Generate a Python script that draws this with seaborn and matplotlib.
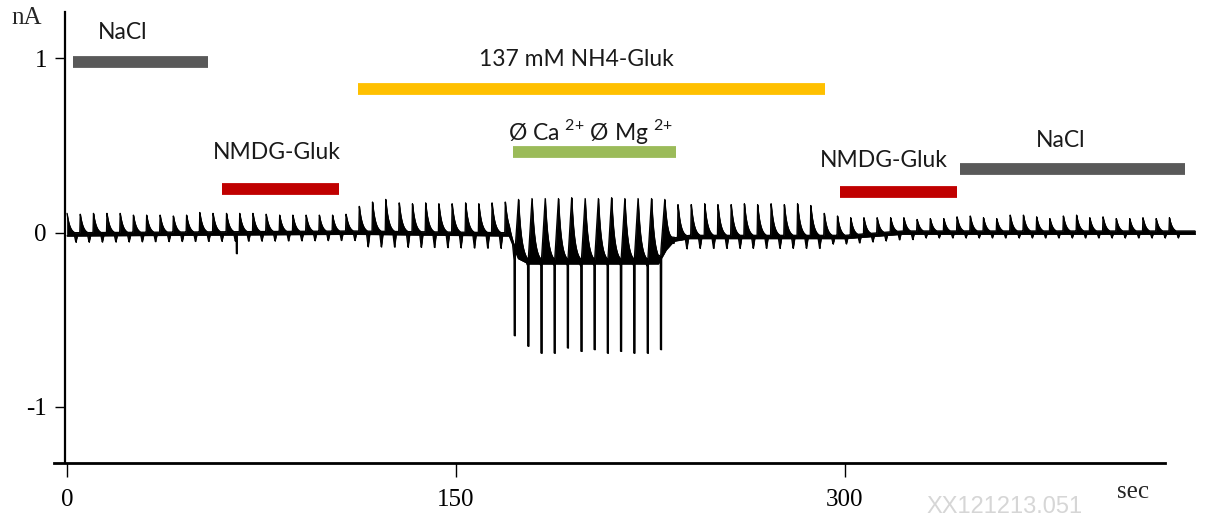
import numpy as np
import pandas as pd
import matplotlib
matplotlib.use("Agg")
import matplotlib.pyplot as plt
import seaborn as sns

# ---------------- data ----------------
# stimulus times (s) of the periodic current responses
spike_times = [0.0, 5.1, 10.2, 15.4, 20.5, 25.6, 30.7, 35.9, 41.0, 46.1,
               51.2, 56.3, 61.5, 66.6, 71.7, 76.8, 82.0, 87.1, 92.2, 97.3,
               102.4, 107.6, 112.7, 117.8, 122.9, 128.1, 133.2, 138.3, 143.4, 148.5,
               153.7, 158.8, 163.9, 169.0, 174.1, 179.3, 184.4, 189.5, 194.6, 199.8,
               204.9, 210.0, 215.1, 220.2, 225.4, 230.5, 235.6, 240.7, 245.9, 251.0,
               256.1, 261.2, 266.3, 271.5, 276.6, 281.7, 286.8, 292.0, 297.1, 302.2,
               307.3, 312.4, 317.6, 322.7, 327.8, 332.9, 338.1, 343.2, 348.3, 353.4,
               358.5, 363.7, 368.8, 373.9, 379.0, 384.2, 389.3, 394.4, 399.5, 404.6,
               409.8, 414.9, 420.0, 425.1]
# positive peak of each response (nA)
spike_peaks = [0.11, 0.105, 0.11, 0.11, 0.11, 0.10, 0.10, 0.10, 0.095, 0.10,
               0.115, 0.11, 0.11, 0.11, 0.11, 0.105, 0.10, 0.10, 0.10, 0.10,
               0.10, 0.105, 0.15, 0.175, 0.19, 0.17, 0.165, 0.17, 0.165, 0.165,
               0.17, 0.165, 0.17, 0.175, 0.19, 0.195, 0.195, 0.195, 0.20, 0.195,
               0.195, 0.20, 0.195, 0.195, 0.195, 0.19, 0.16, 0.16, 0.165, 0.16,
               0.16, 0.165, 0.16, 0.165, 0.16, 0.165, 0.155, 0.11, 0.095, 0.085,
               0.085, 0.085, 0.085, 0.085, 0.075, 0.08, 0.08, 0.09, 0.095, 0.085,
               0.08, 0.10, 0.10, 0.09, 0.08, 0.095, 0.10, 0.085, 0.09, 0.08,
               0.08, 0.085, 0.08, 0.085]
# depth of the small negative notch after each response (nA below baseline)
spike_dips = [0.045] * 22 + [0.08] * 12 + [0.02] * 12 + [0.065] * 11 + [0.04] * 7 + [0.03] * 20

# large inward currents in Ca/Mg-free solution
neg_times = [172.6, 177.8, 182.9, 188.0, 193.1, 198.3, 203.4, 208.5, 213.6, 218.7, 223.9, 229.0]
neg_values = [-0.59, -0.65, -0.69, -0.69, -0.66, -0.68, -0.67, -0.69, -0.68, -0.69, -0.69, -0.67]

# holding-current baseline (s, nA)
base_times = [0.0, 110.0, 170.5, 174.0, 178.0, 228.0, 231.0, 234.0, 240.0, 300.0, 322.0, 435.0]
base_values = [-0.01, 0.0, -0.01, -0.14, -0.17, -0.17, -0.09, -0.04, -0.025, -0.025, 0.0, 0.0]

# single artefact
artefact_times = [65.4]
artefact_values = [-0.12]
trace_end = 435.0

# solution bars
bar_labels = ["NaCl", "NMDG-Gluk", "137 mM NH4-Gluk",
              "Ø Ca $^{\\mathregular{2{+}}}$ Ø Mg $^{\\mathregular{2{+}}}$", "NMDG-Gluk", "NaCl"]
bar_start = [2.3, 59.8, 112.2, 172.0, 298.1, 344.4]
bar_end = [54.4, 104.9, 292.3, 234.9, 343.2, 431.2]
bar_level = [0.977, 0.249, 0.822, 0.461, 0.232, 0.364]
label_x = [21.6, 81.0, 196.3, 201.7, 315.1, 383.3]
label_y = [1.149, 0.456, 0.989, 0.58, 0.415, 0.53]
bar_colors = ["#595959", "#C00000", "#FFC000", "#9BBB59", "#C00000", "#595959"]

x_ticks = [0, 150, 300]
x_ticklabels = ["0", "150", "300"]
y_ticks = [-1, 0, 1]
y_ticklabels = ["-1", "0", "1"]

# ---------------- build trace envelope from the values ----------------
t = np.arange(0.0, trace_end, 0.02)
base = np.interp(t, base_times, base_values)
upper = base + 0.009
lower = base - 0.009
tau = 1.15
neg_map = {}
for nt, nv in zip(neg_times, neg_values):
    idx = int(np.argmin([abs(st - nt - 1.5) for st in spike_times]))
    neg_map[idx] = (nt, nv)

for i, (ti, pk, dp) in enumerate(zip(spike_times, spike_peaks, spike_dips)):
    b = np.interp(ti, base_times, base_values)
    rise = 0.2
    if i in neg_map:
        nt, nv = neg_map[i]
        rise = ti - nt
        m = np.abs(t - nt) < 0.2
        lower[m] = np.minimum(lower[m], nv)
    m = (t >= ti - rise) & (t < ti)
    upper[m] = np.maximum(upper[m], b + (pk - b) * (t[m] - (ti - rise)) / rise)
    m = (t >= ti) & (t < ti + 4.6)
    upper[m] = np.maximum(upper[m], base[m] + (pk - b) * np.exp(-(t[m] - ti) / tau))
    tc = ti + 3.4
    m = np.abs(t - tc) < 0.65
    lower[m] = np.minimum(lower[m], base[m] - dp * (1 - np.abs(t[m] - tc) / 0.65))

for at, av in zip(artefact_times, artefact_values):
    m = np.abs(t - at) < 0.15
    lower[m] = np.minimum(lower[m], av)

df = pd.DataFrame({"t": t, "upper": upper, "lower": lower})

# ---------------- draw ----------------
sns.set_theme(style="ticks")
plt.rcParams["font.family"] = ["Lato", "DejaVu Sans"]
plt.rcParams["mathtext.fontset"] = "custom"
plt.rcParams["mathtext.rm"] = "Lato"

fig = plt.figure(figsize=(12.07, 5.2), dpi=100)
ax = fig.add_axes([65 / 1207, 57 / 520, 1135 / 1207, 451 / 520])

ax.fill_between(df["t"], df["lower"], df["upper"], color="black", lw=0.5)
sns.lineplot(data=df, x="t", y="upper", ax=ax, color="black", lw=0.9,
             estimator=None, sort=False)
sns.lineplot(data=df, x="t", y="lower", ax=ax, color="black", lw=0.9,
             estimator=None, sort=False)

for xs, xe, yl, c in zip(bar_start, bar_end, bar_level, bar_colors):
    ax.hlines(yl, xs, xe, colors=c, lw=8.5, capstyle="butt")
for lx, ly, lab in zip(label_x, label_y, bar_labels):
    ax.text(lx, ly, lab, ha="center", va="center", fontsize=16.5, color="#1a1a1a")

ax.set_xlim(-0.77, 436.9)
ax.set_ylim(-1.321, 1.264)
ax.set_xlabel("")
ax.set_ylabel("")
for s in ["top", "right"]:
    ax.spines[s].set_visible(False)
ax.spines["left"].set_linewidth(1.6)
ax.spines["left"].set_color("black")
ax.spines["bottom"].set_linewidth(2.0)
ax.spines["bottom"].set_color("black")
ax.spines["bottom"].set_bounds(-5.0, 423.4)

ax.set_xticks(x_ticks)
ax.set_xticklabels(x_ticklabels, fontfamily=["Liberation Serif"], fontsize=18)
ax.set_yticks(y_ticks)
ax.set_yticklabels(y_ticklabels, fontfamily=["Liberation Serif"], fontsize=18)
ax.tick_params(axis="x", direction="out", length=10, width=1, pad=9, colors="black")
ax.tick_params(axis="y", direction="out", length=7, width=1, pad=6, colors="black")

fig.text(27 / 1207, 1 - 18 / 520, "nA", ha="center", va="center",
         fontfamily=["Liberation Serif"], fontsize=18)
fig.text(1133 / 1207, 1 - 492 / 520, "sec", ha="center", va="center",
         fontfamily=["Liberation Serif"], fontsize=18)
fig.text(1005 / 1207, 1 - 507 / 520, "XX121213.051", ha="center", va="center",
         fontfamily=["Liberation Sans Narrow", "Liberation Sans"], fontsize=17,
         color="#d6d6d6")

fig.savefig("out.png", dpi=100)
